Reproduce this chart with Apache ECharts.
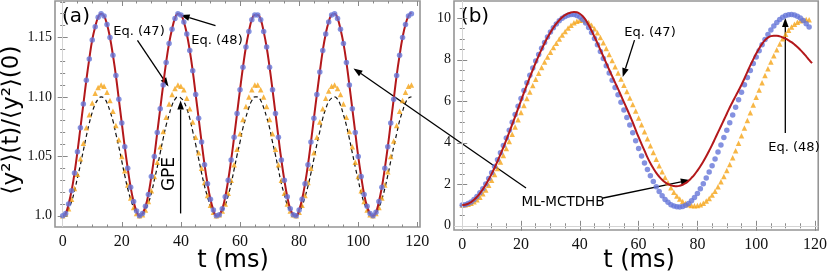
<!DOCTYPE html>
<html><head><meta charset="utf-8">
<script src="https://cdn.jsdelivr.net/npm/echarts@6/dist/echarts.min.js"></script>
<style>html,body{margin:0;padding:0;background:#fff}#c{width:830px;height:274px}</style>
</head><body><div id="c"></div>
<script>
// ---- tick values / labels ----
const xTicks = [0, 20, 40, 60, 80, 100, 120];
const xMinor = [5,10,15,25,30,35,45,50,55,65,70,75,85,90,95,105,110,115];
const yTicksA = [1.0, 1.05, 1.10, 1.15];
const yLabelsA = ['1.0', '1.05', '1.10', '1.15'];
const yMinorA = [0.99,1.01,1.02,1.03,1.04,1.06,1.07,1.08,1.09,1.11,1.12,1.13,1.14,1.16,1.17,1.18];
const yTicksB = [0, 2, 4, 6, 8, 10];
const yMinorB = [0.5,1,1.5,2.5,3,3.5,4.5,5,5.5,6.5,7,7.5,8.5,9,9.5,10.5];

// ---- panel (a): t = 0..118 ms, step 1 ms ----
const redA = [1.000,1.002,1.010,1.021,1.036,1.054,1.074,1.094,1.114,1.132,1.148,1.159,1.167,1.170,1.168,1.161,1.150,1.135,1.118,1.098,1.078,1.058,1.040,1.024,1.012,1.004,1.000,1.002,1.008,1.018,1.033,1.050,1.070,1.090,1.110,1.129,1.145,1.157,1.166,1.170,1.169,1.163,1.153,1.139,1.122,1.102,1.082,1.062,1.043,1.027,1.014,1.005,1.000,1.001,1.006,1.016,1.030,1.047,1.066,1.086,1.106,1.125,1.142,1.155,1.165,1.169,1.169,1.165,1.155,1.142,1.125,1.106,1.086,1.066,1.047,1.030,1.016,1.006,1.001,1.000,1.005,1.014,1.027,1.043,1.062,1.082,1.102,1.121,1.139,1.153,1.163,1.169,1.170,1.166,1.157,1.145,1.129,1.110,1.090,1.070,1.050,1.033,1.018,1.008,1.002,1.000,1.003,1.012,1.024,1.040,1.058,1.078,1.098,1.118,1.135,1.150,1.161,1.168,1.171];
const blueA = [1.000,1.002,1.010,1.021,1.036,1.054,1.074,1.094,1.114,1.132,1.148,1.159,1.167,1.170,1.168,1.161,1.150,1.135,1.118,1.098,1.078,1.058,1.040,1.024,1.012,1.004,1.000,1.002,1.008,1.018,1.033,1.050,1.070,1.090,1.110,1.129,1.145,1.157,1.166,1.170,1.169,1.163,1.153,1.139,1.122,1.102,1.082,1.062,1.043,1.027,1.014,1.005,1.000,1.001,1.006,1.016,1.030,1.047,1.066,1.086,1.106,1.125,1.142,1.155,1.165,1.169,1.169,1.165,1.155,1.142,1.125,1.106,1.086,1.066,1.047,1.030,1.016,1.006,1.001,1.000,1.005,1.014,1.027,1.043,1.062,1.082,1.102,1.121,1.139,1.153,1.163,1.169,1.170,1.166,1.157,1.145,1.129,1.110,1.090,1.070,1.050,1.033,1.018,1.008,1.002,1.000,1.003,1.012,1.024,1.040,1.058,1.078,1.098,1.118,1.135,1.150,1.161,1.168,1.170];
const orangeA = [1.000,1.002,1.006,1.014,1.023,1.035,1.048,1.061,1.074,1.085,1.095,1.103,1.108,1.110,1.109,1.104,1.097,1.088,1.076,1.064,1.050,1.038,1.026,1.015,1.007,1.002,1.000,1.001,1.005,1.012,1.021,1.033,1.045,1.058,1.071,1.083,1.094,1.102,1.107,1.110,1.109,1.106,1.099,1.090,1.079,1.066,1.053,1.040,1.028,1.017,1.009,1.003,1.000,1.001,1.004,1.010,1.019,1.030,1.043,1.056,1.069,1.081,1.092,1.100,1.106,1.110,1.110,1.106,1.100,1.092,1.081,1.069,1.056,1.043,1.030,1.019,1.010,1.004,1.001,1.000,1.003,1.009,1.017,1.028,1.040,1.053,1.066,1.079,1.090,1.099,1.105,1.109,1.110,1.107,1.102,1.094,1.083,1.071,1.058,1.045,1.033,1.021,1.012,1.005,1.001,1.000,1.002,1.007,1.015,1.026,1.037,1.050,1.063,1.076,1.088,1.097,1.104,1.109,1.110];
const gpeA = [1.000,1.001,1.006,1.012,1.021,1.032,1.043,1.055,1.067,1.078,1.087,1.094,1.098,1.100,1.099,1.095,1.088,1.080,1.069,1.058,1.046,1.034,1.023,1.014,1.007,1.002,1.000,1.001,1.005,1.011,1.019,1.030,1.041,1.053,1.065,1.076,1.085,1.093,1.098,1.100,1.099,1.096,1.090,1.082,1.071,1.060,1.048,1.036,1.025,1.016,1.008,1.003,1.000,1.001,1.004,1.009,1.017,1.027,1.039,1.051,1.062,1.074,1.083,1.091,1.097,1.100,1.100,1.097,1.091,1.083,1.074,1.062,1.051,1.039,1.027,1.018,1.009,1.004,1.001,1.000,1.003,1.008,1.016,1.025,1.036,1.048,1.060,1.071,1.082,1.090,1.096,1.099,1.100,1.098,1.093,1.085,1.076,1.065,1.053,1.041,1.030,1.019,1.011,1.005,1.001,1.000,1.002,1.007,1.014,1.023,1.034,1.046,1.058,1.069,1.080,1.088,1.095,1.099,1.100];

// ---- panel (b): t = 0..118 ms, step 1 ms ----
const redB = [1.000,1.016,1.063,1.142,1.252,1.392,1.560,1.757,1.981,2.229,2.501,2.794,3.107,3.437,3.782,4.140,4.508,4.885,5.266,5.650,6.034,6.415,6.792,7.160,7.518,7.863,8.193,8.506,8.799,9.071,9.319,9.543,9.740,9.908,10.048,10.158,10.237,10.284,10.300,10.29,10.22,10.10,9.92,9.68,9.40,9.10,8.80,8.48,8.16,7.84,7.52,7.21,6.90,6.60,6.28,5.96,5.64,5.32,4.98,4.62,4.27,3.94,3.62,3.30,3.02,2.77,2.55,2.37,2.22,2.10,2.01,1.95,1.92,1.91,1.93,1.98,2.06,2.17,2.31,2.47,2.66,2.87,3.10,3.35,3.62,3.90,4.20,4.50,4.80,5.10,5.40,5.70,5.98,6.25,6.52,6.80,7.10,7.42,7.73,8.02,8.30,8.55,8.77,8.95,9.07,9.14,9.16,9.16,9.13,9.08,9.02,8.94,8.85,8.74,8.62,8.48,8.33,8.17,8.00,7.84];
const blueB = [1.00,1.02,1.07,1.15,1.27,1.41,1.59,1.79,2.02,2.28,2.56,2.86,3.18,3.52,3.87,4.23,4.61,4.99,5.37,5.76,6.14,6.52,6.89,7.25,7.60,7.94,8.26,8.56,8.84,9.10,9.34,9.55,9.73,9.88,10.00,10.09,10.15,10.18,10.18,10.14,10.06,9.94,9.77,9.56,9.31,9.03,8.73,8.40,8.06,7.71,7.36,7.01,6.66,6.31,5.95,5.58,5.22,4.86,4.48,4.10,3.73,3.37,3.03,2.71,2.41,2.14,1.88,1.65,1.45,1.27,1.13,1.02,0.95,0.92,0.91,0.93,0.99,1.08,1.21,1.37,1.56,1.78,2.03,2.30,2.59,2.90,3.22,3.56,3.90,4.25,4.61,4.97,5.34,5.71,6.08,6.44,6.80,7.15,7.49,7.82,8.14,8.44,8.72,8.98,9.22,9.44,9.63,9.80,9.94,10.05,10.13,10.17,10.18,10.16,10.10,10.01,9.89,9.74,9.58];
const orangeB = [1.00,1.01,1.04,1.09,1.16,1.26,1.38,1.54,1.73,1.95,2.20,2.47,2.76,3.07,3.39,3.72,4.06,4.41,4.76,5.11,5.46,5.80,6.13,6.45,6.76,7.06,7.35,7.63,7.89,8.14,8.37,8.59,8.80,9.00,9.19,9.37,9.53,9.67,9.78,9.86,9.91,9.92,9.88,9.80,9.67,9.50,9.30,9.07,8.82,8.55,8.26,7.97,7.67,7.37,7.07,6.77,6.47,6.16,5.85,5.53,5.20,4.87,4.53,4.19,3.86,3.53,3.21,2.90,2.61,2.33,2.07,1.83,1.62,1.44,1.29,1.17,1.08,1.02,0.98,0.97,0.98,1.02,1.09,1.19,1.32,1.48,1.67,1.88,2.12,2.38,2.66,2.96,3.28,3.62,3.98,4.34,4.71,5.08,5.45,5.82,6.19,6.55,6.90,7.24,7.57,7.89,8.20,8.49,8.76,9.01,9.23,9.42,9.58,9.71,9.81,9.88,9.92,9.94,9.93];

const tStep = 1; // ms between samples
const pts = arr => arr.map((v, i) => [i * tStep, v]);

const C = {red:'#b3181b', blue:'#6576d8', orange:'#f5a417', frame:'#959595', tick:'#888'};
const serif = '"Liberation Serif","DejaVu Serif",serif';
const sans = '"DejaVu Sans",sans-serif';

const XR = [[-2.6, 120.9], [-2.8, 121.1]];
const YR = [[0.9906, 1.1807], [-0.202, 10.834]];

function xAx(g, pos, vals, len, labels) {
  return {type:'value', gridIndex:g, position:pos, min:XR[g][0], max:XR[g][1],
    axisLine:{show:false}, splitLine:{show:false},
    axisTick:{show:true, inside:true, length:len, customValues:vals, lineStyle:{color:C.tick, width:1}},
    axisLabel:labels ? {show:true, customValues:vals, margin:7, color:'#111', fontFamily:serif, fontSize:16} : {show:false}};
}
function yAx(g, pos, vals, len, labels, fmt) {
  return {type:'value', gridIndex:g, position:pos, min:YR[g][0], max:YR[g][1],
    axisLine:{show:false}, splitLine:{show:false},
    axisTick:{show:true, inside:true, length:len, customValues:vals, lineStyle:{color:C.tick, width:1}},
    axisLabel:labels ? {show:true, customValues:vals, margin:3, color:'#111', fontFamily:serif, fontSize:14, formatter:fmt} : {show:false}};
}
const fmtA = v => { const i = yTicksA.findIndex(t => Math.abs(t - v) < 1e-6); return i >= 0 ? yLabelsA[i] : ''; };
const fmtB = v => String(Math.round(v));

const option = {
  animation:false,
  grid:[
    {left:55, top:1, width:365, height:226, show:true, borderColor:C.frame, borderWidth:1.6, backgroundColor:'transparent'},
    {left:454, top:1, width:370, height:229, show:true, borderColor:C.frame, borderWidth:1.6, backgroundColor:'transparent'}
  ],
  xAxis:[
    xAx(0,'bottom',xTicks,5,true), xAx(0,'bottom',xMinor,2.5,false), xAx(0,'top',xTicks,5,false), xAx(0,'top',xMinor,2.5,false),
    xAx(1,'bottom',xTicks,5,true), xAx(1,'bottom',xMinor,2.5,false), xAx(1,'top',xTicks,5,false), xAx(1,'top',xMinor,2.5,false)
  ],
  yAxis:[
    yAx(0,'left',yTicksA,5,true,fmtA), yAx(0,'left',yMinorA,2.5,false), yAx(0,'right',yTicksA,5,false), yAx(0,'right',yMinorA,2.5,false),
    yAx(1,'left',yTicksB,5,true,fmtB), yAx(1,'left',yMinorB,2.5,false), yAx(1,'right',yTicksB,5,false), yAx(1,'right',yMinorB,2.5,false)
  ],
  series:[
    {type:'line', xAxisIndex:0, yAxisIndex:0, data:pts(gpeA), showSymbol:false, smooth:true, z:2,
      lineStyle:{color:'#111', width:1.2, type:[4,3]},
      markLine:{silent:true, symbol:'none', label:{show:false}, lineStyle:{color:'#d4d4d4', width:1, type:'solid'}, data:[{xAxis:0}]}},
    {type:'scatter', xAxisIndex:0, yAxisIndex:0, data:pts(orangeA), symbol:'triangle', symbolSize:5.5, itemStyle:{color:C.orange}, z:3},
    {type:'line', xAxisIndex:0, yAxisIndex:0, data:pts(redA), showSymbol:false, smooth:true, z:4, lineStyle:{color:C.red, width:2}},
    {type:'scatter', xAxisIndex:0, yAxisIndex:0, data:pts(blueA), symbol:'circle', symbolSize:5.5, itemStyle:{color:C.blue}, z:5},

    {type:'scatter', xAxisIndex:4, yAxisIndex:4, data:pts(orangeB), symbol:'triangle', symbolSize:5.5, itemStyle:{color:C.orange}, z:3,
      markLine:{silent:true, symbol:'none', label:{show:false}, lineStyle:{color:'#d4d4d4', width:1, type:'solid'}, data:[{xAxis:0},{yAxis:0}]}},
    {type:'scatter', xAxisIndex:4, yAxisIndex:4, data:pts(blueB), symbol:'circle', symbolSize:5.5, itemStyle:{color:C.blue}, z:4},
    {type:'line', xAxisIndex:4, yAxisIndex:4, data:pts(redB), showSymbol:false, smooth:true, z:5, lineStyle:{color:C.red, width:2}}
  ]
};

const chart = echarts.init(document.getElementById('c'), null, {renderer:'canvas'});
chart.setOption(option);

// ---- annotations: arrow ends given in data coordinates of a panel ----
const arrowSpecs = [
  {from:[0,[25.3,1.1475]], to:[0,[35.8,1.1088]]},   // Eq. (47), panel a
  {from:[0,[51.7,1.160]],  to:[0,[39.9,1.169]]},    // Eq. (48), panel a
  {from:[0,[39.9,1.002]],  to:[0,[39.9,1.097]]},    // GPE
  {from:[1,[21.7,1.82]],   to:[0,[98.4,1.124]]},    // ML-MCTDHB -> panel a
  {from:[1,[47.9,1.34]],   to:[1,[77.4,2.21]]},     // ML-MCTDHB -> panel b
  {from:[1,[58.6,8.95]],   to:[1,[54.6,7.17]]},     // Eq. (47), panel b
  {from:[1,[109.9,4.47]],  to:[1,[109.9,10.01]]}    // Eq. (48), panel b
];
const px = ([g, p]) => chart.convertToPixel({xAxisIndex:g*4, yAxisIndex:g*4}, p);
function arrow(p0, p1) {
  const dx = p1[0]-p0[0], dy = p1[1]-p0[1], L = Math.hypot(dx, dy), ux = dx/L, uy = dy/L;
  const hl = 9, hw = 3.3, bx = p1[0]-ux*hl, by = p1[1]-uy*hl;
  return [
    {type:'line', silent:true, shape:{x1:p0[0], y1:p0[1], x2:bx, y2:by}, style:{stroke:'#000', lineWidth:1.3}},
    {type:'polygon', silent:true, shape:{points:[[p1[0],p1[1]],[bx-uy*hw,by+ux*hw],[bx+uy*hw,by-ux*hw]]}, style:{fill:'#000'}}
  ];
}
function txt(s, x, y, size, rot) {
  return {type:'text', x:x, y:y, rotation:rot||0, silent:true,
    style:{text:s, fill:'#000', font:size+'px '+sans, textAlign:'center', textVerticalAlign:'middle'}};
}
const g = [];
arrowSpecs.forEach(a => g.push(...arrow(px(a.from), px(a.to))));
g.push(txt('(a)', 76, 17, 20), txt('(b)', 475, 17, 20));
g.push(txt('Eq. (47)', 139, 31.5, 13), txt('Eq. (48)', 217, 41, 13));
g.push(txt('GPE', 170, 174, 17, Math.PI/2));
g.push(txt('ML-MCTDHB', 563, 202.5, 13.5));
g.push(txt('Eq. (47)', 650, 32.5, 13), txt('Eq. (48)', 794, 147.5, 13));
g.push(txt('t (ms)', 233, 261, 24), txt('t (ms)', 639, 261, 24));
g.push(txt('⟨y²⟩(t)/⟨y²⟩(0)', 12, 120, 23, Math.PI/2));
chart.setOption({graphic:g});
</script>
</body></html>
